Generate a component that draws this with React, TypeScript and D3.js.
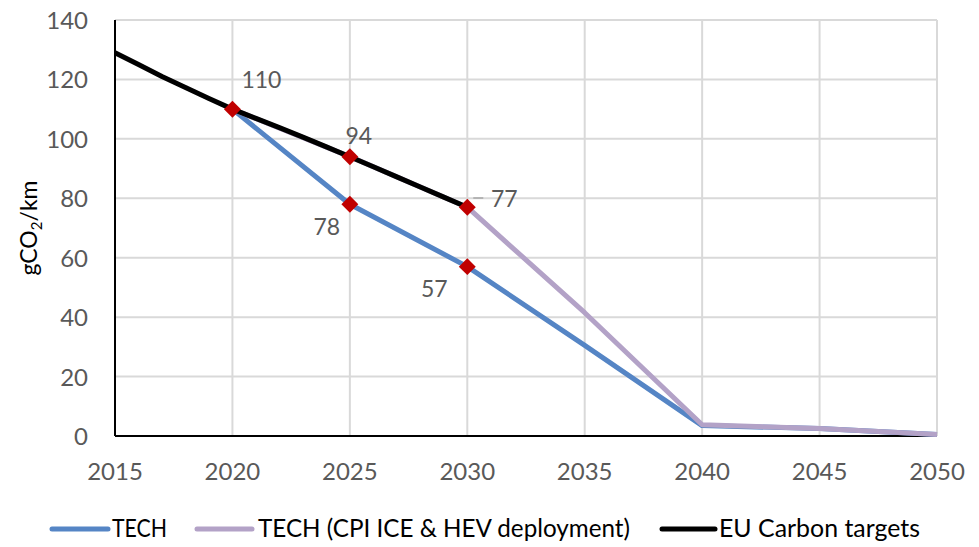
import React from "react";
import * as d3 from "d3";

const xTicks = [2015, 2020, 2025, 2030, 2035, 2040, 2045, 2050];
const yTicks = [0, 20, 40, 60, 80, 100, 120, 140];

const euYears = [2015, 2016, 2017, 2018, 2019, 2020, 2021, 2022, 2023, 2024, 2025, 2026, 2027, 2028, 2029, 2030];
const euValues = [129, 125, 121, 117.3, 113.6, 110, 106.9, 103.8, 100.6, 97.3, 94, 90.6, 87.2, 83.8, 80.4, 77];

const techYears = [2020, 2025, 2030, 2035, 2040, 2045, 2050];
const techValues = [110, 78, 57, 30.5, 3.5, 2.5, 0.5];

const cpiYears = [2020, 2025, 2030, 2035, 2040, 2045, 2050];
const cpiValues = [110, 94, 77, 41.5, 3.8, 2.5, 0.5];

const markerYears = [2020, 2025, 2025, 2030, 2030];
const markerValues = [110, 94, 78, 77, 57];

const seriesNames = ["TECH", "TECH (CPI ICE & HEV deployment)", "EU Carbon targets"];

export default function App() {
  const W = 979, H = 547;
  const left = 115, right = 937, top = 20, bottom = 436;
  const x = d3.scaleLinear().domain([2015, 2050]).range([left, right]);
  const y = d3.scaleLinear().domain([0, 140]).range([bottom, top]);
  const line = d3.line<[number, number]>().x(d => x(d[0])).y(d => y(d[1]));
  const zip = (a: number[], b: number[]) => a.map((v, i) => [v, b[i]] as [number, number]);
  const font = "Lato, 'Open Sans', sans-serif";
  const tickColor = "#595959";

  const labels = [
    { t: "110", yr: 2020, v: 110, dx: 29, dy: -21 },
    { t: "94", yr: 2025, v: 94, dx: 9, dy: -13 },
    { t: "78", yr: 2025, v: 78, dx: -23, dy: 31 },
    { t: "57", yr: 2030, v: 57, dx: -33, dy: 30 },
    { t: "77", yr: 2030, v: 77, dx: 37, dy: 0 },
  ];

  const legend = [
    { name: seriesNames[0], color: "#5585C5", x1: 52, x2: 108, tx: 112, tw: 55 },
    { name: seriesNames[1], color: "#B3A2C7", x1: 197, x2: 252, tx: 258, tw: 372 },
    { name: seriesNames[2], color: "#000000", x1: 662, x2: 715, tx: 719, tw: 201 },
  ];

  return (
    <svg width={W} height={H} style={{ position: "absolute", left: 0, top: 0, background: "#fff" }}>
      {yTicks.map(t => (
        <line key={"gy" + t} x1={left} x2={right} y1={y(t)} y2={y(t)} stroke="#D9D9D9" strokeWidth={2} />
      ))}
      {xTicks.map(t => (
        <line key={"gx" + t} x1={x(t)} x2={x(t)} y1={top} y2={bottom} stroke="#D9D9D9" strokeWidth={2} />
      ))}
      <line x1={left} x2={left} y1={top} y2={bottom} stroke="#000" strokeWidth={2} />
      <line x1={left} x2={right} y1={bottom} y2={bottom} stroke="#000" strokeWidth={2} />
      {yTicks.map(t => (
        <text key={"ty" + t} x={88} y={y(t) + 9} textAnchor="end" fontFamily={font} fontSize={24} fill={tickColor}>{t}</text>
      ))}
      {xTicks.map(t => (
        <text key={"tx" + t} x={x(t)} y={480} textAnchor="middle" fontFamily={font} fontSize={24} fill={tickColor}>{t}</text>
      ))}
      <text transform={`translate(37,228) rotate(-90)`} textAnchor="middle" fontFamily={font} fontSize={23} fill="#000">
        gCO<tspan fontSize={15} dy={5}>2</tspan><tspan dy={-5}>/km</tspan>
      </text>
      <path d={line(zip(techYears, techValues)) || ""} fill="none" stroke="#5585C5" strokeWidth={5} strokeLinejoin="round" />
      <path d={line(zip(cpiYears, cpiValues)) || ""} fill="none" stroke="#B3A2C7" strokeWidth={5} strokeLinejoin="round" />
      <path d={line(zip(euYears, euValues)) || ""} fill="none" stroke="#000" strokeWidth={5} strokeLinejoin="round" />
      {markerYears.map((yr, i) => (
        <rect key={"m" + i} x={x(yr) - 6} y={y(markerValues[i]) - 6} width={12} height={12} fill="#C00000"
          transform={`rotate(45 ${x(yr)} ${y(markerValues[i])})`} />
      ))}
      <line x1={x(2030) + 6} x2={x(2030) + 16} y1={198} y2={198} stroke="#A6A6A6" strokeWidth={1.5} />
      {labels.map((l, i) => (
        <text key={"l" + i} x={x(l.yr) + l.dx} y={y(l.v) + l.dy} textAnchor={i === 0 || i === 4 ? "middle" : "middle"} fontFamily={font} fontSize={23} fill={tickColor}>{l.t}</text>
      ))}
      {legend.map((l, i) => (
        <g key={"lg" + i}>
          <line x1={l.x1} x2={l.x2} y1={529} y2={529} stroke={l.color} strokeWidth={5} strokeLinecap="round" />
          <text x={l.tx} y={537} fontFamily={font} fontSize={25} fill="#000" textLength={l.tw} lengthAdjust="spacingAndGlyphs">{l.name}</text>
        </g>
      ))}
    </svg>
  );
}
